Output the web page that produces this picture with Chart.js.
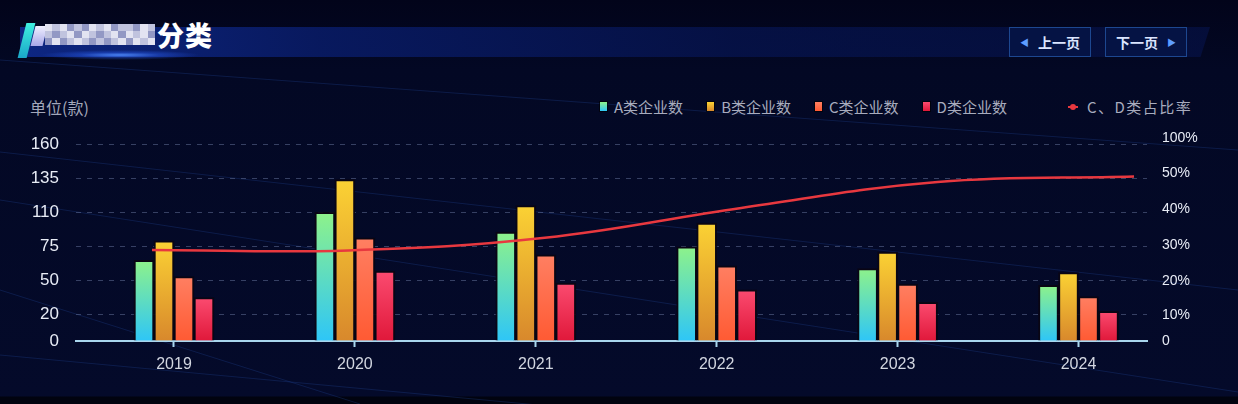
<!DOCTYPE html>
<html>
<head>
<meta charset="utf-8">
<script src="https://cdn.jsdelivr.net/npm/chart.js@4/dist/chart.umd.min.js"></script>
<style>
  html, body { margin: 0; padding: 0; }
  body { width: 1238px; height: 404px; overflow: hidden; background: #030825; font-family: "Noto Sans CJK SC", sans-serif; }
  #wrap { position: relative; width: 1238px; height: 404px;
    background: linear-gradient(180deg, #02041a 0px, #030824 70px, #040a2a 396px, #01030f 397px, #01030f 404px); }
  #wrap > * { position: absolute; }
  .lines { left: 0; top: 0; }
  .band { left: 20px; top: 27px; width: 1190px; height: 30px;
    background: linear-gradient(90deg, rgba(14,40,135,0.95) 0%, rgba(9,28,105,0.85) 25%, rgba(6,20,80,0.75) 60%, rgba(6,20,80,0.55) 100%);
    clip-path: polygon(0 0, 100% 0, 99.2% 100%, 0 100%); }
  .glow { left: 40px; top: 50px; width: 160px; height: 10px;
    background: radial-gradient(ellipse at center, rgba(80,140,255,0.9) 0%, rgba(40,90,230,0.45) 35%, rgba(20,50,180,0) 70%); }
  .deco1 { left: 22px; top: 23px; width: 9px; height: 35px; background: linear-gradient(180deg, #3ff0e0, #1aa6c8); transform: skewX(-14deg); }
  .deco2 { left: 33px; top: 26px; width: 12px; height: 20px; background: linear-gradient(180deg, #f0f0ff, #a9a8e8); transform: skewX(-14deg); }
  .mosaic { left: 45px; top: 24px; width: 110px; height: 21px; display: grid; grid-template-columns: repeat(15, 1fr); grid-template-rows: repeat(3, 1fr); filter: blur(0.6px); }
  .title { left: 157px; top: 15px; font-size: 27px; font-weight: 900; color: #ffffff; letter-spacing: 1px; }
  .btn { top: 27px; width: 80px; height: 28px; border: 1px solid #1d4790; background: rgba(5,20,68,0.95);
    color: #dbe5ff; font-size: 14px; font-weight: bold; display: flex; align-items: center; justify-content: center; gap: 9px; }
  .btn i { font-style: normal; color: #5e9dff; font-size: 9px; }
  .prev { left: 1009px; }
  .next { left: 1105px; }
  .unit { left: 30px; top: 95px; font-size: 16px; color: #a3a7ba; }
  #legend { left: 600px; top: 96px; display: flex; align-items: center; font-size: 15px; color: #a8acbe; white-space: nowrap; }
  #legend .item { display: flex; align-items: center; margin-right: 24px; }
  #legend .box { width: 7px; height: 9px; margin-right: 7px; box-shadow: 0 0 0 1px rgba(0,0,0,0.6); }
  #legend .mark { position: relative; width: 10px; height: 10px; margin-right: 9px; }
  #legend .mark::before { content: ""; position: absolute; left: 0; top: 4px; width: 10px; height: 2px; background: #e8383f; }
  #legend .mark::after { content: ""; position: absolute; left: 2px; top: 2px; width: 6px; height: 6px; border-radius: 50%; background: #e8383f; }
  #legend .wide { letter-spacing: 1.5px; }
  #chart, #ratio { left: 0; top: 0; }
</style>
</head>
<body>
<div id="wrap">
  <svg class="lines" width="1238" height="404">
    <g stroke="rgba(35,75,160,0.28)" stroke-width="1" fill="none">
      <line x1="0" y1="152" x2="1238" y2="290"/>
      <line x1="0" y1="200" x2="1238" y2="392"/>
      <line x1="0" y1="355" x2="1238" y2="470"/>
      <line x1="0" y1="290" x2="360" y2="404"/>
      <line x1="0" y1="60" x2="1238" y2="150"/>
    </g>
  </svg>
  <div class="band"></div>
  <div class="glow"></div>
  <div class="deco1"></div>
  <div class="deco2"></div>
  <div class="mosaic" id="mosaic"></div>
  <div class="title">分类</div>
  <div class="btn prev"><i>◀</i>上一页</div>
  <div class="btn next">下一页<i>▶</i></div>
  <div class="unit">单位(款)</div>
  <div id="legend"></div>
  <canvas id="chart" width="1238" height="404"></canvas>
  <canvas id="ratio" width="1238" height="404"></canvas>
</div>
<script>
// data
const years = ['2019', '2020', '2021', '2022', '2023', '2024'];
const countA = [65, 110, 90, 75, 59, 46];
const countB = [81, 134, 115, 99, 71, 56];
const countC = [53, 84, 69, 61, 47, 36];
const countD = [35, 57, 48, 42, 31, 23];
const ratioCD = [28.6, 28.5, 32, 40.3, 47.5, 49];
const leftTicks = [0, 20, 50, 75, 110, 135, 160];
const rightTicks = [0, 10, 20, 30, 40, 50, 100];

// tick positions (share of plot height) - the axes are not evenly valued
const leftFracs = [0, 0.1296, 0.297, 0.4645, 0.634, 0.8015, 0.969];
const rightFracs = [0, 0.128, 0.2956, 0.473, 0.65, 0.8276, 1];

// blurred title blocks
const mosaicRows = ['121323121322312', '232131232131213', '313212323213121'];
const shade = { 1: '#e2e3f1', 2: '#c0c3de', 3: '#9298c4' };
const mosaic = document.getElementById('mosaic');
mosaicRows.join('').split('').forEach(c => {
  const s = document.createElement('span');
  s.style.background = shade[c];
  mosaic.appendChild(s);
});

class StopScale extends Chart.LinearScale {
  determineDataLimits() {
    const stops = this.options.stops;
    this.min = stops[0];
    this.max = stops[stops.length - 1];
  }
  buildTicks() {
    return this.options.stops.map(value => ({ value }));
  }
  getPixelForValue(value) {
    const stops = this.options.stops, fracs = this.options.fracs;
    let i = 1;
    while (i < stops.length - 1 && value > stops[i]) i++;
    const t = (value - stops[i - 1]) / (stops[i] - stops[i - 1]);
    const f = fracs[i - 1] + t * (fracs[i] - fracs[i - 1]);
    return this.bottom - f * this.height;
  }
  getValueForPixel(pixel) {
    const stops = this.options.stops, fracs = this.options.fracs;
    const f = (this.bottom - pixel) / this.height;
    let i = 1;
    while (i < fracs.length - 1 && f > fracs[i]) i++;
    const t = (f - fracs[i - 1]) / (fracs[i] - fracs[i - 1]);
    return stops[i - 1] + t * (stops[i] - stops[i - 1]);
  }
}
StopScale.id = 'stops';
StopScale.defaults = Chart.LinearScale.defaults;
Chart.register(StopScale);

const numFont = '"Liberation Sans", "Noto Sans CJK SC", sans-serif';

function barFill(top, bottom) {
  return ctx => {
    const chart = ctx.chart;
    if (!chart.chartArea || ctx.type !== 'data') return bottom;
    const y = chart.scales.y;
    const g = chart.ctx.createLinearGradient(0, y.getPixelForValue(ctx.parsed.y), 0, y.getPixelForValue(0));
    g.addColorStop(0, top);
    g.addColorStop(1, bottom);
    return g;
  };
}

const barColors = [
  ['#8ef28a', '#2ec6f7'],
  ['#fbd234', '#d8882c'],
  ['#ff7f62', '#ff5a33'],
  ['#fb4b70', '#e0183a']
];

function bars(label, values, colors) {
  return {
    label: label,
    data: values.map((v, i) => ({ x: i, y: v })),
    backgroundColor: barFill(colors[0], colors[1]),
    borderColor: 'rgba(10,6,18,0.9)',
    borderWidth: 2,
    barThickness: 20
  };
}

/* BAR CHART (axes + bars) */
const chart = new Chart(document.getElementById('chart'), {
  type: 'bar',
  data: {
    datasets: [
      bars('A类企业数', countA, barColors[0]),
      bars('B类企业数', countB, barColors[1]),
      bars('C类企业数', countC, barColors[2]),
      bars('D类企业数', countD, barColors[3])
    ]
  },
  options: {
    responsive: false,
    animation: false,
    devicePixelRatio: 1,
    layout: { padding: { top: 138, bottom: 30, left: 0, right: 0 } },
    plugins: { legend: { display: false }, tooltip: { enabled: false } },
    scales: {
      x: {
        type: 'linear',
        offset: false,
        min: -0.5417,
        max: 5.3787,
        afterBuildTicks: s => { s.ticks = years.map((_, i) => ({ value: i })); },
        afterFit: s => { s.height = 33; },
        ticks: {
          callback: v => years[v],
          color: '#d2d6e0',
          padding: 8,
          font: { size: 16, family: numFont }
        },
        grid: { offset: false, drawOnChartArea: false, drawTicks: true, tickLength: 6, tickWidth: 2, tickColor: '#a9d6ee' },
        border: { color: '#a9d6ee', width: 2 }
      },
      y: {
        type: 'stops',
        position: 'left',
        stops: leftTicks,
        fracs: leftFracs,
        afterFit: s => { s.width = 76; },
        ticks: {
          callback: v => String(v),
          color: '#e8ecf6',
          padding: 17,
          font: { size: 17, family: numFont }
        },
        grid: {
          drawTicks: false,
          color: c => c.tick && c.tick.value === 0 ? 'rgba(0,0,0,0)' : 'rgba(105,120,160,0.5)'
        },
        border: { display: false, dash: [5, 6] }
      },
      y1: {
        type: 'stops',
        position: 'right',
        stops: rightTicks,
        fracs: rightFracs,
        afterFit: s => { s.width = 91; },
        ticks: {
          callback: v => v === 0 ? '0' : v + '%',
          color: '#e8ecf6',
          padding: 15,
          font: { size: 14, family: numFont }
        },
        grid: { drawOnChartArea: false, drawTicks: false },
        border: { display: false }
      }
    }
  }
});

/* LINE CHART (ratio, drawn over the bars on its own x range) */
const ratioChart = new Chart(document.getElementById('ratio'), {
  type: 'line',
  data: {
    datasets: [{
      label: 'C、D类占比率',
      data: ratioCD.map((v, i) => ({ x: i, y: v })),
      borderColor: '#e8383f',
      borderWidth: 2.5,
      pointRadius: 0,
      tension: 0.4
    }]
  },
  options: {
    responsive: false,
    animation: false,
    devicePixelRatio: 1,
    layout: { padding: { top: 138, bottom: 63, left: 76, right: 91 } },
    plugins: { legend: { display: false }, tooltip: { enabled: false } },
    scales: {
      x: { type: 'linear', display: false, min: -0.387, max: 5.066 },
      y: { type: 'stops', display: false, stops: rightTicks, fracs: rightFracs }
    }
  }
});

// html legend built from the datasets
const legendEl = document.getElementById('legend');
const legendSets = chart.data.datasets.concat(ratioChart.data.datasets);
legendSets.forEach((ds, i) => {
  const item = document.createElement('div');
  item.className = 'item';
  const mark = document.createElement('span');
  const text = document.createElement('span');
  if (i < barColors.length) {
    mark.className = 'box';
    mark.style.background = 'linear-gradient(180deg,' + barColors[i][0] + ',' + barColors[i][1] + ')';
  } else {
    mark.className = 'mark';
    text.className = 'wide';
  }
  text.textContent = ds.label;
  item.appendChild(mark);
  item.appendChild(text);
  if (i === 3) item.style.marginRight = '61px';
  legendEl.appendChild(item);
});
</script>
</body>
</html>
